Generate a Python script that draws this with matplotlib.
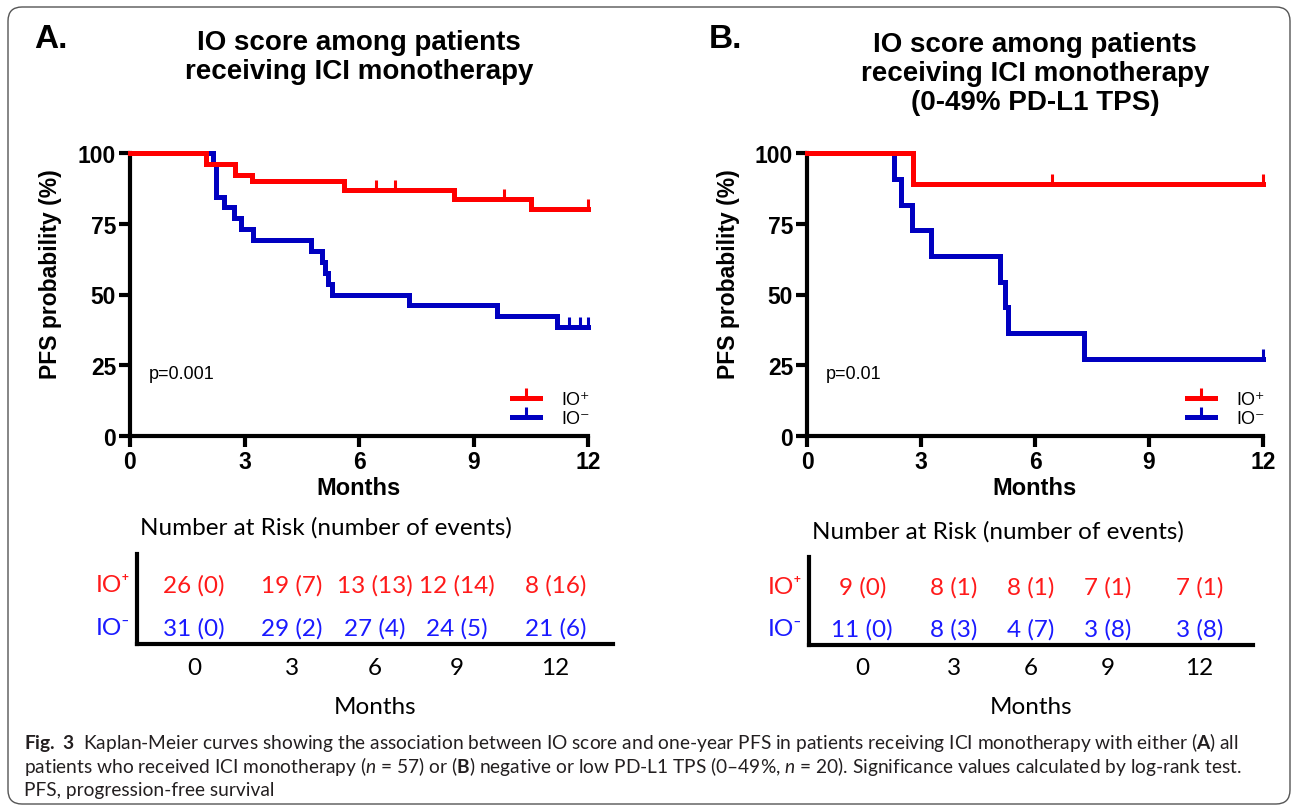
import matplotlib
matplotlib.use("Agg")
import matplotlib.pyplot as plt
from matplotlib.lines import Line2D
from matplotlib.patches import FancyBboxPatch

plt.rcParams["font.family"] = ["Liberation Sans", "DejaVu Sans"]
plt.rcParams["mathtext.fontset"] = "custom"
plt.rcParams["mathtext.rm"] = "Lato"
plt.rcParams["mathtext.it"] = "Lato:italic"
plt.rcParams["mathtext.bf"] = "Lato:bold"

RED = "#ff0000"
BLUE = "#0000c0"
T_RED = "#ff1a1a"
T_BLUE = "#1a1aff"

# ---- data: panel A (all ICI monotherapy) ----
a_pos_t = [0, 2.0, 2.75, 3.2, 5.6, 8.5, 10.5, 12]
a_pos_s = [100, 96.2, 92.3, 90.2, 87.0, 83.6, 80.2, 80.2]
a_pos_cens_t = [6.45, 6.95, 9.8, 12]
a_pos_cens_s = [87.0, 87.0, 83.6, 80.2]

a_neg_t = [0, 2.18, 2.25, 2.46, 2.72, 2.9, 3.23, 4.73, 5.02, 5.1, 5.2, 5.3, 7.31, 9.62, 11.2, 12]
a_neg_s = [100, 96.2, 84.6, 80.8, 76.9, 73.1, 69.2, 65.4, 61.5, 57.7, 53.8, 50.0, 46.2, 42.3, 38.5, 38.5]
a_neg_cens_t = [11.5, 11.8, 12]
a_neg_cens_s = [38.5, 38.5, 38.5]

# ---- data: panel B (0-49% PD-L1 TPS) ----
b_pos_t = [0, 2.8, 12]
b_pos_s = [100, 88.9, 88.9]
b_pos_cens_t = [6.45, 12]
b_pos_cens_s = [88.9, 88.9]

b_neg_t = [0, 2.29, 2.48, 2.77, 3.25, 5.07, 5.2, 5.3, 7.3, 12]
b_neg_s = [100, 90.9, 81.8, 72.7, 63.6, 54.5, 45.5, 36.4, 27.3, 27.3]
b_neg_cens_t = [12]
b_neg_cens_s = [27.3]

months = [0, 3, 6, 9, 12]
a_risk_pos = ["26 (0)", "19 (7)", "13 (13)", "12 (14)", "8 (16)"]
a_risk_neg = ["31 (0)", "29 (2)", "27 (4)", "24 (5)", "21 (6)"]
b_risk_pos = ["9 (0)", "8 (1)", "8 (1)", "7 (1)", "7 (1)"]
b_risk_neg = ["11 (0)", "8 (3)", "4 (7)", "3 (8)", "3 (8)"]

title_a = "IO score among patients\nreceiving ICI monotherapy"
title_b = "IO score among patients\nreceiving ICI monotherapy\n(0-49% PD-L1 TPS)"

caption = [
    r"$\mathbf{Fig.\ 3}$  Kaplan-Meier curves showing the association between IO score and one-year PFS in patients receiving ICI monotherapy with either ($\mathbf{A}$) all",
    r"patients who received ICI monotherapy ($\mathit{n}$ = 57) or ($\mathbf{B}$) negative or low PD-L1 TPS (0–49%, $\mathit{n}$ = 20). Significance values calculated by log-rank test.",
    "PFS, progression-free survival",
]

fig = plt.figure(figsize=(12.95, 8.12), dpi=100)

border = FancyBboxPatch((0.08, 0.07), 12.82, 7.97,
                        boxstyle="round,pad=0,rounding_size=0.14",
                        transform=fig.dpi_scale_trans, fill=False,
                        edgecolor="#555555", linewidth=1.0)
fig.patches.append(border)

W, H = 1295, 812


def px_axes(left, top, right, bottom):
    return fig.add_axes([left / W, 1 - bottom / H, (right - left) / W, (bottom - top) / H])


def km_panel(ax, pos_t, pos_s, pc_t, pc_s, neg_t, neg_s, nc_t, nc_s, ptext):
    ax.step(neg_t, neg_s, where="post", color=BLUE, lw=3.6, clip_on=False,
            solid_joinstyle="miter", zorder=3)
    ax.plot(nc_t, nc_s, ls="none", marker=2, ms=7, mew=2.2, color=BLUE,
            clip_on=False, zorder=3)
    ax.step(pos_t, pos_s, where="post", color=RED, lw=3.6, clip_on=False,
            solid_joinstyle="miter", zorder=4)
    ax.plot(pc_t, pc_s, ls="none", marker=2, ms=7, mew=2.2, color=RED,
            clip_on=False, zorder=4)
    ax.set_xlim(0, 12)
    ax.set_ylim(0, 100)
    ax.set_xticks([0, 3, 6, 9, 12])
    ax.set_yticks([0, 25, 50, 75, 100])
    for s in ["top", "right"]:
        ax.spines[s].set_visible(False)
    for s in ["left", "bottom"]:
        ax.spines[s].set_linewidth(3.0)
    ax.tick_params(width=3.0, length=8, labelsize=16.5, pad=2)
    for lab in ax.get_xticklabels() + ax.get_yticklabels():
        lab.set_fontweight("bold")
    ax.set_xlabel("Months", fontsize=17, fontweight="bold")
    ax.set_ylabel("PFS probability (%)", fontsize=16.5, fontweight="bold")
    ax.xaxis.set_label_coords(0.5, -0.14)
    ax.yaxis.set_label_coords(-0.148, 0.575)
    ax.text(0.5, 22, ptext, fontsize=13, va="center", ha="left")
    handles = [
        Line2D([], [], color=RED, lw=3.6, marker=2, ms=7, mew=2.2),
        Line2D([], [], color=BLUE, lw=3.6, marker=2, ms=7, mew=2.2),
    ]
    ax.legend(handles, ["IO\u207a", "IO\u207b"], loc="lower right",
              bbox_to_anchor=(1.02, 0.005), frameon=False, fontsize=13,
              handlelength=1.55, handletextpad=1.2, labelspacing=0.12,
              numpoints=1, borderaxespad=0)


def risk_table(ax, pos, neg):
    ax.set_xlim(0, 1)
    ax.set_ylim(0, 1)
    for s in ["top", "right"]:
        ax.spines[s].set_visible(False)
    for s in ["left", "bottom"]:
        ax.spines[s].set_linewidth(3.0)
    ax.set_xticks([])
    ax.set_yticks([])
    ax.patch.set_visible(False)
    cols = [0.12, 0.326, 0.5, 0.672, 0.879]
    tf = ["Lato", "DejaVu Sans"]
    fs = 17.5
    for x, p, n, m in zip(cols, pos, neg, months):
        ax.text(x, 0.66, p, color=T_RED, fontsize=fs, ha="center", va="center", family=tf)
        ax.text(x, 0.185, n, color=T_BLUE, fontsize=fs, ha="center", va="center", family=tf)
        ax.text(x, -0.26, str(m), color="black", fontsize=fs, ha="center", va="center", family=tf)
    ax.text(-0.015, 0.66, "IO\u207a", color=T_RED, fontsize=fs, ha="right", va="center", family=tf)
    ax.text(-0.015, 0.185, "IO\u207b", color=T_BLUE, fontsize=fs, ha="right", va="center", family=tf)
    ax.text(0.006, 1.3, "Number at Risk (number of events)", fontsize=fs,
            ha="left", va="center", family=tf)
    ax.text(0.5, -0.7, "Months", fontsize=fs, ha="center", va="center", family=tf)


ax_a = px_axes(130, 154, 588, 437)
km_panel(ax_a, a_pos_t, a_pos_s, a_pos_cens_t, a_pos_cens_s,
         a_neg_t, a_neg_s, a_neg_cens_t, a_neg_cens_s, "p=0.001")
ax_a.text(0.5, 1.342, title_a, transform=ax_a.transAxes, ha="center", va="center",
          fontsize=20, fontweight="bold", linespacing=1.15)

ax_b = px_axes(807, 154, 1263, 437)
km_panel(ax_b, b_pos_t, b_pos_s, b_pos_cens_t, b_pos_cens_s,
         b_neg_t, b_neg_s, b_neg_cens_t, b_neg_cens_s, "p=0.01")
ax_b.text(0.5, 1.283, title_b, transform=ax_b.transAxes, ha="center", va="center",
          fontsize=20, fontweight="bold", linespacing=1.15)

fig.text(34 / W, 1 - 40 / H, "A.", fontsize=24, fontweight="bold", ha="left", va="center")
fig.text(709 / W, 1 - 40 / H, "B.", fontsize=24, fontweight="bold", ha="left", va="center")

tab_a = px_axes(137, 555, 613, 645)
risk_table(tab_a, a_risk_pos, a_risk_neg)
tab_b = px_axes(809, 558, 1253, 646)
risk_table(tab_b, b_risk_pos, b_risk_neg)

for i, line in enumerate(caption):
    fig.text(24 / W, 1 - (743 + 23.8 * i) / H, line, fontsize=13.8,
             ha="left", va="center", color="#231f20",
             family=["Lato", "DejaVu Sans"])

fig.savefig("out.png", dpi=100)
